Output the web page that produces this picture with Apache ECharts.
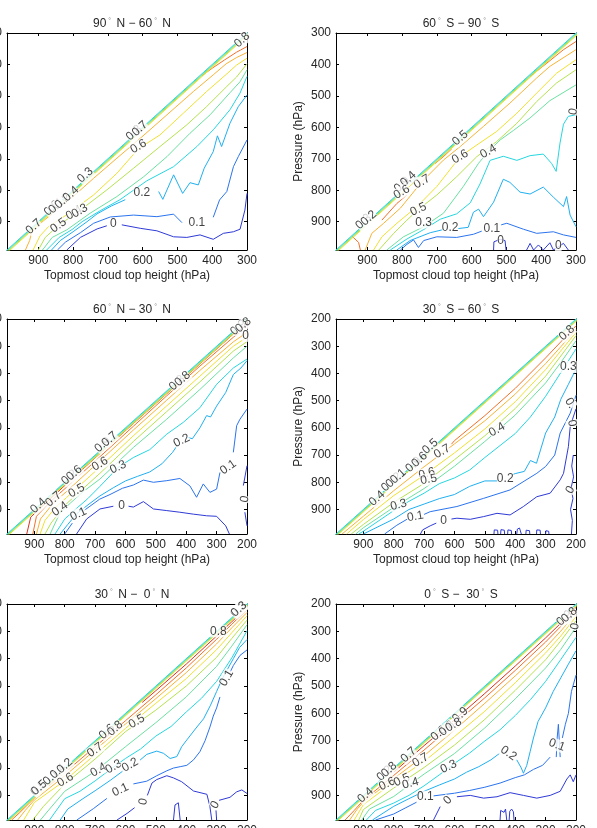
<!DOCTYPE html>
<html><head><meta charset="utf-8">
<script src="https://cdn.jsdelivr.net/npm/echarts/dist/echarts.min.js"></script>
<style>html,body{margin:0;padding:0;background:#fff}#c{width:597px;height:828px}</style>
</head><body><div id="c"></div>
<script>
// ---------- DATA (pressure values in hPa) ----------
const contourLevels = [0, 0.1, 0.2, 0.3, 0.4, 0.5, 0.6, 0.7, 0.8, 0.9];
const xTicksUpper = [300, 400, 500, 600, 700, 800, 900];
const xTicksLower = [200, 300, 400, 500, 600, 700, 800, 900];
const panelTitles = ['90{d|°} N − 60{d|°} N', '60{d|°} S − 90{d|°} S', '60{d|°} N − 30{d|°} N',
                     '30{d|°} S − 60{d|°} S', '30{d|°} N −  0{d|°} N', '0{d|°} S −  30{d|°} S'];

// contour lines stacked on the diagonal edge (same in every panel), deepest first
const diagonalBand = [
  [0.6, [[1000,1009],[190,199]]],
  [0.5, [[1000,1006],[190,196]]],
  [0.4, [[1000,1003],[190,193]]],
  [0.3, [[1000,1000],[190,190]]]
];

// 90N-60N
const nh90_60 = [
  [0.8, [[430,436],[400,412],[365,386],[330,361],[300,343]]],
  [0.7, [[937,990],[925,960],[918,930],[885,897],[818,838],[741,762],[674,698],[607,635],[530,560],[454,486],[397,433],[360,398],[330,378],[300,362]]],
  [0.6, [[915,990],[895,945],[870,915],[818,878],[741,815],[674,746],[612,668],[550,624],[483,555],[416,486],[358,430],[330,402],[300,380]]],
  [0.5, [[900,990],[880,950],[842,912],[779,863],[703,799],[626,730],[550,661],[473,592],[416,534],[358,470],[330,440],[300,398]]],
  [0.4, [[888,990],[860,950],[818,926],[751,873],[674,820],[597,757],[530,693],[464,619],[406,560],[349,490],[320,455],[300,417]]],
  [0.3, [[876,990],[840,950],[803,925],[774,900],[722,865],[665,830],[588,770],[511,725],[444,661],[397,608],[349,544],[320,491],[300,438]]],
  [0.2, [[862,990],[837,960],[800,932],[760,900],[731,875],[690,850],[650,830]]],
  [0.2, [[554,804],[542,829],[511,751],[485,810],[464,776],[440,783],[423,730],[397,677],[385,627],[373,661],[349,587],[325,534],[300,497]]],
  [0.1, [[845,990],[822,965],[779,935],[741,905],[693,885],[626,879],[559,884],[511,876],[487,903]]],
  [0.1, [[397,886],[379,831],[358,804],[339,725],[325,693],[300,640]]],
  [0, [[818,990],[779,950],[731,923],[703,913]]],
  [0, [[660,910],[607,921],[559,929],[511,948],[473,950],[435,942],[397,956],[368,937],[339,932],[320,924],[306,863],[300,810]]]
];
const nh90_60Labels = [
  [913,916,'0.7',42],[861,857,'0.6',42],[842,912,'0.5',35],[848,850,'0.1',42],[830,835,'0.2',42],
  [806,812,'0.4',42],[765,752,'0.3',42],[797,872,'0.4',30],[781,866,'0.3',30],[625,618,'0.8',42],
  [608,604,'0.7',42],[612,661,'0.6',30],[602,808,'0.2',0],[684,907,'0',0],[444,903,'0.1',0],[314,322,'0.8',42]
];

// 60S-90S
const sh60_90 = [
  [0.8, [[944,946],[925,966],[920,990]]],
  [0.8, [[858,895],[815,842],[786,815]]],
  [0.8, [[705,715],[680,692],[657,668]]],
  [0.8, [[432,438],[384,396],[336,353],[300,327]]],
  [0.7, [[906,990],[887,937],[853,905],[805,857],[743,773],[681,704],[633,661],[566,597],[490,523],[413,443],[375,406],[300,353]]],
  [0.6, [[882,990],[858,948],[815,905],[757,852],[700,788],[633,693],[585,656],[528,613],[470,555],[413,491],[356,428],[300,385]]],
  [0.5, [[867,990],[824,937],[786,895],[753,861],[700,815],[643,757],[585,693],[528,645],[470,587],[413,518],[356,459],[300,417]]],
  [0.4, [[844,990],[796,948],[738,916],[681,873],[624,788],[580,714],[552,677],[518,640],[480,610],[432,570],[375,515],[300,465]]],
  [0.3, [[834,990],[786,955],[738,925],[690,892],[643,875],[604,840],[576,780],[547,705],[509,692],[470,705],[432,690],[394,685],[370,715],[357,740],[346,650],[336,590],[322,565],[300,560]]],
  [0.2, [[815,990],[777,960],[719,935],[681,925]]],
  [0.2, [[640,922],[610,918],[595,870],[580,860],[566,884],[537,838],[509,765],[490,775],[461,806],[432,812],[394,790],[365,822],[336,852],[327,820],[317,879],[300,916]]],
  [0.1, [[805,990],[786,972],[767,958],[753,982],[738,960],[700,948],[643,950],[595,940],[571,930]]],
  [0.1, [[515,910],[499,905],[451,924],[413,937],[365,932],[336,942],[300,950]]],
  [0, [[537,990],[536,964],[518,956],[504,960],[501,990]]],
  [0, [[442,990],[432,969],[422,990],[408,974],[394,990],[375,967],[365,990],[336,969],[322,990]]]
];
const sh60_90Labels = [
  [633,634,'0.5',42],[633,693,'0.6',30],[552,677,'0.4',30],[743,773,'0.7',30],[800,782,'0.9',42],
  [782,764,'0.4',42],[801,806,'0.6',30],[911,900,'0.3',42],[896,889,'0.2',42],[753,861,'0.5',25],
  [738,903,'0.3',0],[662,919,'0.2',0],[542,921,'0.1',0],[517,960,'0',0],[351,977,'0',0],[308,550,'0',80]
];

// 60N-30N
const nh60_30 = [
  [0.9, [[925,990],[912,928],[850,863],[794,806],[684,694],[574,584],[464,474],[355,365],[245,255],[200,212]]],
  [0.8, [[905,990],[893,925],[850,874],[794,818],[684,706],[574,594],[464,482],[355,373],[245,267],[200,230]]],
  [0.7, [[893,990],[880,935],[837,876],[794,834],[684,721],[574,608],[464,498],[355,389],[245,284],[200,249]]],
  [0.6, [[881,990],[865,940],[830,892],[794,856],[684,744],[574,629],[464,519],[355,410],[245,300],[200,267]]],
  [0.5, [[865,990],[845,950],[800,885],[761,845],[684,767],[574,650],[464,540],[355,431],[245,318],[200,283]]],
  [0.4, [[848,990],[816,913],[780,875],[740,835],[684,788],[574,672],[464,568],[355,459],[245,343],[200,300]]],
  [0.3, [[832,990],[800,935],[760,895],[724,860],[684,815],[624,745],[574,709],[520,680],[464,623],[410,580],[355,526],[300,440],[245,380],[200,347]]],
  [0.2, [[815,990],[790,955],[760,915],[720,880],[684,850],[640,820],[600,795],[560,778],[520,762],[480,732],[445,690],[428,662]]],
  [0.2, [[398,634],[380,640],[355,600],[333,555],[320,560],[300,520],[270,470],[245,404],[220,380],[200,353]]],
  [0.1, [[800,990],[775,950]]],
  [0.1, [[738,905],[717,888],[685,862],[651,845],[610,822],[574,810],[541,792],[508,800],[464,794],[421,786],[388,813],[366,855],[344,806],[322,837],[300,825],[289,764]]],
  [0.1, [[245,690],[234,592],[223,568],[200,531]]],
  [0, [[761,990],[728,935],[684,898],[640,888]]],
  [0, [[590,888],[574,891],[541,871],[508,898],[464,904],[421,910],[377,917],[333,923],[300,925],[270,960],[258,990]]],
  [0, [[200,739],[212,812]]],
  [0, [[207,910],[200,960]]]
];
const nh60_30Labels = [
  [887,886,'0.4',41],[837,862,'0.7',41],[816,898,'0.4',35],[755,917,'0.1',25],[761,831,'0.5',30],
  [785,782,'0.2',41],[768,766,'0.6',41],[684,733,'0.6',30],[624,745,'0.3',25],[675,662,'0.9',41],
  [652,642,'0.7',41],[430,435,'0.8',41],[412,420,'0.8',41],[415,647,'0.2',25],[262,745,'0.1',35],
  [613,886,'0',0],[207,862,'0',80],[228,232,'0.9',41],[212,222,'0.8',41],[205,262,'0',0]
];

// 30S-60S
const sh30_60 = [
  [0.8, [[610,660],[600,647],[500,555],[400,455],[300,343],[250,284],[200,225]]],
  [0.7, [[970,990],[900,925],[800,831],[700,743],[600,659],[500,574],[400,476],[300,364],[250,302],[200,239]]],
  [0.6, [[955,990],[900,937],[800,849],[700,774],[600,692],[500,604],[400,504],[300,386],[250,317],[200,249]]],
  [0.5, [[940,990],[900,955],[800,874],[700,804],[600,717],[500,629],[400,529],[300,410],[250,336],[200,261]]],
  [0.4, [[925,990],[900,967],[800,892],[700,823],[600,741],[500,650],[400,553],[300,435],[250,360],[200,280]]],
  [0.3, [[915,990],[900,980],[800,904],[750,870],[700,840],[650,805],[600,784],[550,755],[500,709],[450,665],[400,621],[350,560],[300,484],[250,397],[200,310]]],
  [0.2, [[900,990],[800,935],[750,900],[700,880],[650,860],[600,845],[550,815],[500,795],[455,795]]],
  [0.2, [[410,772],[400,768],[370,760],[350,720],[330,730],[300,619],[270,560],[250,495],[225,440],[200,384]]],
  [0.1, [[830,990],[790,958],[755,935]]],
  [0.1, [[700,918],[680,908],[592,889],[504,859],[417,828],[329,767],[300,742],[270,700],[252,619],[219,546],[200,480]]],
  [0, [[712,990],[705,975],[680,960],[660,950]]],
  [0, [[610,935],[592,932],[548,936],[504,926],[460,914],[417,920],[373,889],[329,853],[285,840],[252,791],[241,767],[225,669],[219,595],[209,560],[200,530]]],
  [0, [[470,990],[469,975],[463,970],[458,976],[457,990]]],
  [0, [[448,990],[447,974],[441,970],[436,976],[435,990]]],
  [0, [[425,990],[424,975],[418,971],[413,977],[412,990]]],
  [0, [[395,990],[393,972],[386,968],[381,975],[380,990]]],
  [0, [[365,990],[364,976],[358,972],[353,978],[352,990]]],
  [0, [[330,990],[329,975],[323,970],[318,976],[317,990]]],
  [0, [[300,990],[299,978],[294,974],[290,980],[289,990]]],
  [0, [[215,990],[212,940],[218,900],[210,860],[216,820],[208,780],[214,740],[209,700]]]
];
const sh30_60Labels = [
  [855,859,'0.4',42],[815,806,'0.9',42],[800,792,'0.2',42],[785,778,'0.1',42],[735,735,'0.9',42],
  [715,717,'0.6',42],[680,668,'0.5',42],[641,687,'0.7',30],[691,768,'0.6',15],[685,790,'0.5',10],
  [460,607,'0.4',30],[784,883,'0.3',15],[729,926,'0.1',10],[636,941,'0',0],[433,785,'0.2',0],
  [225,376,'0.3',0],[219,509,'0.',-60],[214,583,'0',-80],[230,251,'0.8',42],[219,828,'0',60]
];

// 30N-0N
const nh30_0 = [
  [0.9, [[545,560],[500,517],[400,420],[300,317],[250,265],[200,212]]],
  [0.8, [[975,990],[950,965],[900,910],[800,817],[700,722],[600,627],[500,532],[400,434],[300,329],[250,274],[200,220]]],
  [0.7, [[955,990],[930,955],[900,917],[800,829],[700,734],[600,639],[500,546],[400,451],[300,346],[250,287],[200,231]]],
  [0.6, [[935,990],[900,926],[800,846],[700,751],[600,655],[500,563],[400,473],[300,367],[250,305],[200,243]]],
  [0.5, [[905,990],[870,940],[800,859],[700,767],[600,667],[500,588],[400,500],[300,395],[250,326],[200,259]]],
  [0.4, [[880,990],[850,950],[800,885],[700,812],[600,722],[500,634],[400,540],[300,428],[250,354],[200,276]]],
  [0.3, [[850,990],[800,912],[750,885],[700,847],[650,805],[600,765],[550,730],[500,683],[450,648],[400,595],[350,545],[300,483],[250,397],[200,298]]],
  [0.2, [[815,990],[790,950],[740,912],[700,883],[650,845],[610,812]]],
  [0.2, [[552,771],[530,750],[497,738],[475,746],[453,765],[431,758],[415,722],[398,697],[365,650],[343,620],[320,570],[300,520],[280,470],[260,430],[245,400],[225,360],[200,330]]],
  [0.1, [[760,990],[705,948],[661,911]]],
  [0.1, [[574,858],[530,848],[497,828],[464,810],[442,800],[420,795],[398,790],[376,770],[355,740],[338,700],[322,650],[311,610],[300,580],[289,540]]],
  [0.1, [[256,450],[245,425],[223,388],[200,368]]],
  [0, [[628,990],[595,966],[570,945]]],
  [0, [[528,900],[513,855],[497,842],[464,828],[442,836],[415,850],[376,884],[332,896],[322,941],[316,990]]],
  [0, [[300,990],[302,955]]],
  [0, [[292,918],[289,917],[256,907],[234,887],[217,880],[200,893]]],
  [0, [[442,990],[437,935],[426,927],[420,990]]]
];
const nh30_0Labels = [
  [886,874,'0.5',42],[884,872,'0.5',42],[845,835,'0.1',42],[822,812,'0.4',42],[800,792,'0.2',42],
  [798,844,'0.6',30],[700,734,'0.7',35],[689,807,'0.4',30],[639,795,'0.3',30],[585,789,'0.2',30],
  [617,880,'0.1',25],[541,923,'0',80],[661,667,'0.6',42],[634,655,'0.8',42],[563,630,'0.5',30],
  [294,300,'0.8',0],[228,221,'0.3',42],[226,219,'0.3',42],[267,471,'0.1',60],[305,935,'0',60]
];

// 0S-30S
const sh0_30 = [
  [0.9, [[830,845],[800,815],[700,718],[600,624],[500,527],[400,427],[300,324],[250,270],[200,212]]],
  [0.8, [[960,990],[930,955],[900,918],[800,827],[700,734],[600,639],[500,543],[400,443],[300,339],[250,282],[200,222]]],
  [0.7, [[945,990],[920,950],[900,924],[800,839],[700,755],[600,661],[500,563],[400,463],[300,359],[250,299],[200,234]]],
  [0.6, [[930,990],[900,934],[800,851],[700,776],[600,685],[500,592],[400,488],[300,379],[250,317],[200,246]]],
  [0.5, [[915,990],[900,952],[800,873],[700,798],[600,716],[500,622],[400,516],[300,404],[250,335],[200,261]]],
  [0.4, [[905,990],[880,950],[800,904],[700,822],[600,747],[500,653],[400,547],[300,434],[250,366],[200,285]]],
  [0.3, [[890,990],[860,955],[800,928],[750,900],[700,865],[650,825],[600,783],[550,745],[500,701],[450,660],[400,608],[350,550],[300,483],[250,403],[200,322]]],
  [0.2, [[870,990],[800,940],[750,912],[700,885],[650,862],[600,840],[560,815],[520,795],[480,770],[450,745]]],
  [0.2, [[395,770],[380,800],[373,819],[362,790],[351,740],[340,690],[325,630],[300,580],[275,520],[250,470],[225,420],[200,371]]],
  [0.1, [[860,990],[800,968],[760,945],[725,925]]],
  [0.1, [[670,902],[600,892],[550,882],[500,870],[450,855],[400,835],[370,825],[340,805],[310,790],[285,760]]],
  [0.1, [[245,690],[235,640],[225,600],[215,520],[200,460]]],
  [0.1, [[265,760],[262,690],[258,640],[255,700],[252,760]]],
  [0, [[669,990],[647,941]]],
  [0, [[592,905],[548,900],[504,910],[460,905],[417,890],[373,900],[329,910],[285,900],[252,885],[230,840],[219,825],[209,850],[200,825]]],
  [0, [[450,990],[448,955],[442,948],[437,962],[432,950],[428,990]]],
  [0, [[420,990],[418,958],[412,950],[406,960],[404,990]]]
];
const sh0_30Labels = [
  [893,899,'0.4',42],[830,820,'0.2',42],[815,806,'0.8',42],[751,752,'0.7',42],[712,771,'0.7',30],
  [822,858,'0.6',25],[773,844,'0.5',25],[745,856,'0.4',15],[619,795,'0.3',25],[696,905,'0.1',0],
  [622,918,'0',45],[652,673,'0.6',42],[625,655,'0.8',42],[581,606,'0.9',42],[603,642,'0.8',30],
  [422,746,'0.2',-35],[263,716,'0.1',-20],[238,252,'0.9',42],[222,240,'0.8',42],[203,282,'0',80]
];

// ---------- STYLE ----------
const levelColors = {0:'#2f3ad6',0.1:'#2b74ee',0.2:'#1fb0f0',0.3:'#26d6df',0.4:'#6be0a0',
                     0.5:'#b5e24e',0.6:'#f0e030',0.7:'#f7b234',0.8:'#f2702a',0.9:'#d93220'};
const FONT = '"Liberation Sans", Arial, Helvetica, sans-serif';
const TXT = '#262626';

const panels = [
  {contours: nh90_60, labels: nh90_60Labels, ticks: xTicksUpper},
  {contours: sh60_90, labels: sh60_90Labels, ticks: xTicksUpper},
  {contours: nh60_30, labels: nh60_30Labels, ticks: xTicksLower},
  {contours: sh30_60, labels: sh30_60Labels, ticks: xTicksLower},
  {contours: nh30_0, labels: nh30_0Labels, ticks: xTicksLower},
  {contours: sh0_30, labels: sh0_30Labels, ticks: xTicksLower}
];
const colLeft = [7, 336];
const rowTop = [33, 319, 604];
const rowH = [217, 215, 216];
const titleTop = [13, 299, 584];

const grids = [], xAxes = [], yAxes = [], series = [], titles = [];
panels.forEach((p, i) => {
  const col = i % 2, row = Math.floor(i / 2);
  grids.push({left: colLeft[col], top: rowTop[row], width: 240, height: rowH[row],
              containLabel: false, outerBoundsMode: 'none'});
  const tickSet = p.ticks;
  const fmt = v => (tickSet.indexOf(v) >= 0 ? String(v) : '');
  const base = {
    type: 'value', gridIndex: i, min: tickSet[0], max: 990, interval: 100, inverse: true,
    splitLine: {show: false},
    axisLine: {show: true, onZero: false, lineStyle: {color: '#000', width: 1}},
    axisTick: {show: true, inside: true, length: 3, lineStyle: {color: '#000', width: 1}}
  };
  const lab = {fontSize: 12, color: TXT, fontFamily: FONT, margin: 5, formatter: fmt};
  xAxes.push(Object.assign({}, base, {position: 'bottom', axisLabel: lab,
    name: 'Topmost cloud top height (hPa)', nameLocation: 'middle', nameGap: 20,
    nameTextStyle: {fontSize: 12, color: TXT, fontFamily: FONT}}));
  xAxes.push(Object.assign({}, base, {position: 'top', axisLabel: {show: false}}));
  yAxes.push(Object.assign({}, base, {position: 'left', axisLabel: lab,
    name: 'Pressure (hPa)', nameLocation: 'middle', nameGap: 31, nameRotate: 90,
    nameTextStyle: {fontSize: 12, color: TXT, fontFamily: FONT}}));
  yAxes.push(Object.assign({}, base, {position: 'right', axisLabel: {show: false}}));

  titles.push({
    text: panelTitles[i], left: colLeft[col] + 120, top: titleTop[row], textAlign: 'center',
    textStyle: {fontSize: 12, fontWeight: 'normal', color: TXT, fontFamily: FONT,
      rich: {d: {fontSize: 7, verticalAlign: 'top', color: '#888', padding: [0, 2, 0, 2], fontFamily: FONT}}}
  });

  p.contours.concat(diagonalBand).forEach(seg => {
    series.push({
      type: 'line', xAxisIndex: 2 * i, yAxisIndex: 2 * i, data: seg[1],
      showSymbol: false, symbol: 'none', silent: true, clip: true, z: 2,
      lineStyle: {color: levelColors[seg[0]], width: 1}
    });
  });
  series.push({
    type: 'scatter', xAxisIndex: 2 * i, yAxisIndex: 2 * i, symbolSize: 1, silent: true, z: 5,
    itemStyle: {color: 'rgba(0,0,0,0)'},
    label: {show: true, position: 'inside', fontSize: 12, color: '#111', fontFamily: FONT,
            backgroundColor: '#fff', padding: [0, 0]},
    data: p.labels.map(l => ({value: [l[0], l[1]], label: {rotate: l[3], formatter: l[2]}}))
  });
});

const chart = echarts.init(document.getElementById('c'), null, {renderer: 'canvas'});
chart.setOption({
  animation: false, backgroundColor: '#fff',
  title: titles, grid: grids, xAxis: xAxes, yAxis: yAxes, series: series
});
</script>
</body></html>
